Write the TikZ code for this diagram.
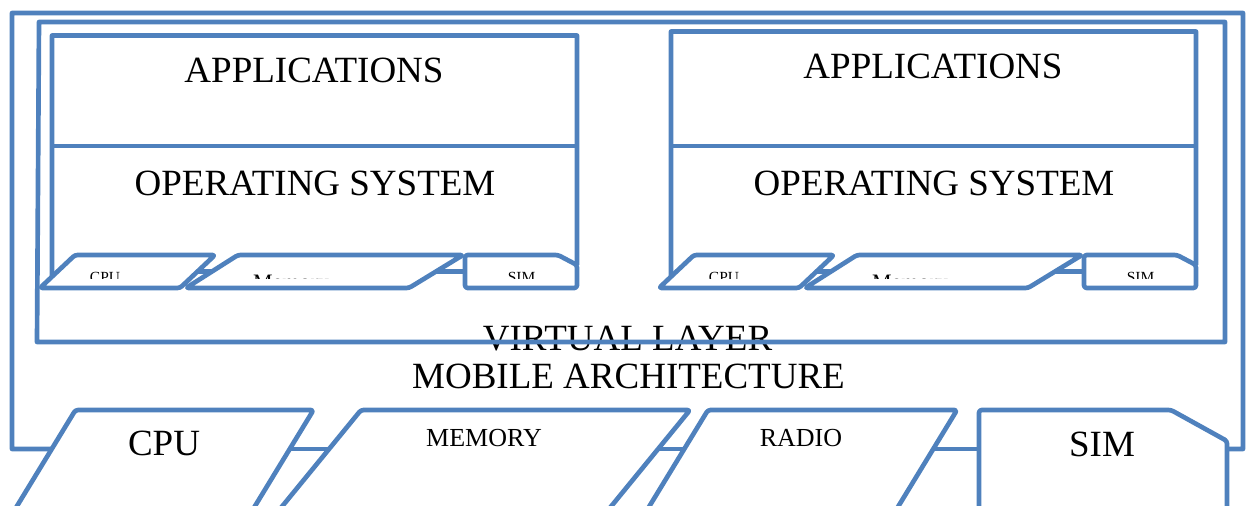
\documentclass[tikz,border=0pt]{standalone}
\usepackage{fontspec}
\setmainfont{Liberation Serif}
\usetikzlibrary{calc}
\definecolor{bl}{RGB}{79,129,189}
\begin{document}
\begin{tikzpicture}[x=0.75pt,y=-0.75pt,
  frame/.style={draw=bl,line width=3.5pt,line join=round},
  shapebox/.style={draw=bl,line width=3.5pt,line join=round,rounded corners=2pt},
  lbl/.style={inner sep=0pt,anchor=base,font=\fontsize{27.75}{30}\selectfont},
  midlbl/.style={inner sep=0pt,anchor=base,font=\fontsize{19.5}{22}\selectfont},
  tinylbl/.style={inner sep=0pt,anchor=base,font=\fontsize{11.6}{13}\selectfont},
  tinymem/.style={inner sep=0pt,anchor=base,font=\fontsize{16.5}{18}\selectfont}]
\useasboundingbox (0,0) rectangle (1246,506);

% ---------- virtual machines ----------
\foreach \s/\dx/\ta/\tv in {L/0/35.5/83, R/619/31.5/79} {
  \begin{scope}[shift={(\dx,0)}]
    \coordinate (\s c1) at (75,255);
    \coordinate (\s c2) at (215,255);
    \coordinate (\s c3) at (180,288);
    \coordinate (\s c4) at (40,288);
    \coordinate (\s m1) at (238,255);
    \coordinate (\s m2) at (463,255);
    \coordinate (\s m3) at (409,288);
    \coordinate (\s m4) at (186,288);
    \coordinate (\s s1) at (465,288);
    \coordinate (\s s2) at (465,255);
    \coordinate (\s s3) at (558,255);
    \coordinate (\s s4) at (577,265);
    \coordinate (\s s5) at (577,288);
    \coordinate (\s b1) at ($(\s c1)!.657!(\s c4)$);
    \coordinate (\s b2) at (52,\ta);
    \coordinate (\s b3) at (577,\ta);
    \coordinate (\s d1) at (52,146);
    \coordinate (\s d2) at (577,146);
    \draw[frame] (\s b1) -- (\s b2) -- (\s b3) -- (\s s4);
    \draw[frame] (\s d1) -- (\s d2);
    \node[lbl] (\s app) at (314,\tv) {APPLICATIONS};
    \node[lbl] (\s os) at (315,196) {OPERATING SYSTEM};
    \begin{scope}
      \clip (0,0) rectangle (600,278);
      \node[tinylbl] (\s cpu) at (105,282.5) {CPU};
      \node[tinymem] (\s mem) at (291,289) {Memory};
      \node[tinylbl] (\s sim) at (521.5,282.5) {SIM};
    \end{scope}
    \draw[shapebox] (\s c1) -- (\s c2) -- (\s c3) -- (\s c4) -- cycle;
    \draw[shapebox] (\s m1) -- (\s m2) -- (\s m3) -- (\s m4) -- cycle;
    \draw[shapebox] (\s s1) -- (\s s2) -- (\s s3) -- (\s s4) -- (\s s5) -- cycle;
    \draw[frame] ($(\s c2)!.5!(\s c3)$) -- ($(\s m1)!.5!(\s m4)$);
    \draw[frame] ($(\s m2)!.5!(\s m3)$) -- ($(\s s1)!.5!(\s s2)$);
  \end{scope}
}

% ---------- virtual layer ----------
\node[lbl] (vl) at (627.5,350) {VIRTUAL LAYER};
\coordinate (V1) at (39,22);
\coordinate (V2) at (1225,22);
\coordinate (V3) at (1225,342);
\coordinate (V4) at (37,342);
\draw[frame] (V1) -- (V2) -- (V3) -- (V4) -- cycle;

% ---------- hardware ----------
\coordinate (C1) at (75.5,410);
\coordinate (C2) at (313.5,410);
\coordinate (C3) at (246.5,520);
\coordinate (C4) at (8.5,520);
\coordinate (M1) at (361,410);
\coordinate (M2) at (690,410);
\coordinate (M3) at (600,520);
\coordinate (M4) at (271,520);
\coordinate (R1) at (708,410);
\coordinate (R2) at (957,410);
\coordinate (R3) at (890,520);
\coordinate (R4) at (641,520);
\coordinate (S1) at (979,520);
\coordinate (S2) at (979,410);
\coordinate (S3) at (1171,410);
\coordinate (S4) at (1227,441);
\coordinate (S5) at (1227,520);
\draw[shapebox] (C1) -- (C2) -- (C3) -- (C4) -- cycle;
\draw[shapebox] (M1) -- (M2) -- (M3) -- (M4) -- cycle;
\draw[shapebox] (R1) -- (R2) -- (R3) -- (R4) -- cycle;
\draw[shapebox] (S1) -- (S2) -- (S3) -- (S4) -- (S5) -- cycle;
\node[lbl] (cpu) at (164,455) {CPU};
\node[midlbl] (mem) at (484,446) {MEMORY};
\node[midlbl] (radio) at (801,446) {RADIO};
\node[lbl] (sim) at (1102,456) {SIM};

% connectors
\draw[frame] ($(C2)!.3545!(C3)$) -- ($(M1)!.3545!(M4)$);
\draw[frame] ($(M2)!.3545!(M3)$) -- ($(R1)!.3545!(R4)$);
\draw[frame] ($(R2)!.3545!(R3)$) -- ($(S2)!.3545!(S1)$);

% ---------- mobile architecture frame ----------
\node[lbl] (ma) at (628.5,388) {MOBILE ARCHITECTURE};
\coordinate (O1) at (12,449);
\coordinate (O2) at (12,13);
\coordinate (O3) at (1243,13);
\coordinate (O4) at (1243,449);
\draw[frame] ($(C1)!.3545!(C4)$) -- (O1) -- (O2) -- (O3) -- (O4) -- ($(S4)!.101!(S5)$);
\end{tikzpicture}
\end{document}
